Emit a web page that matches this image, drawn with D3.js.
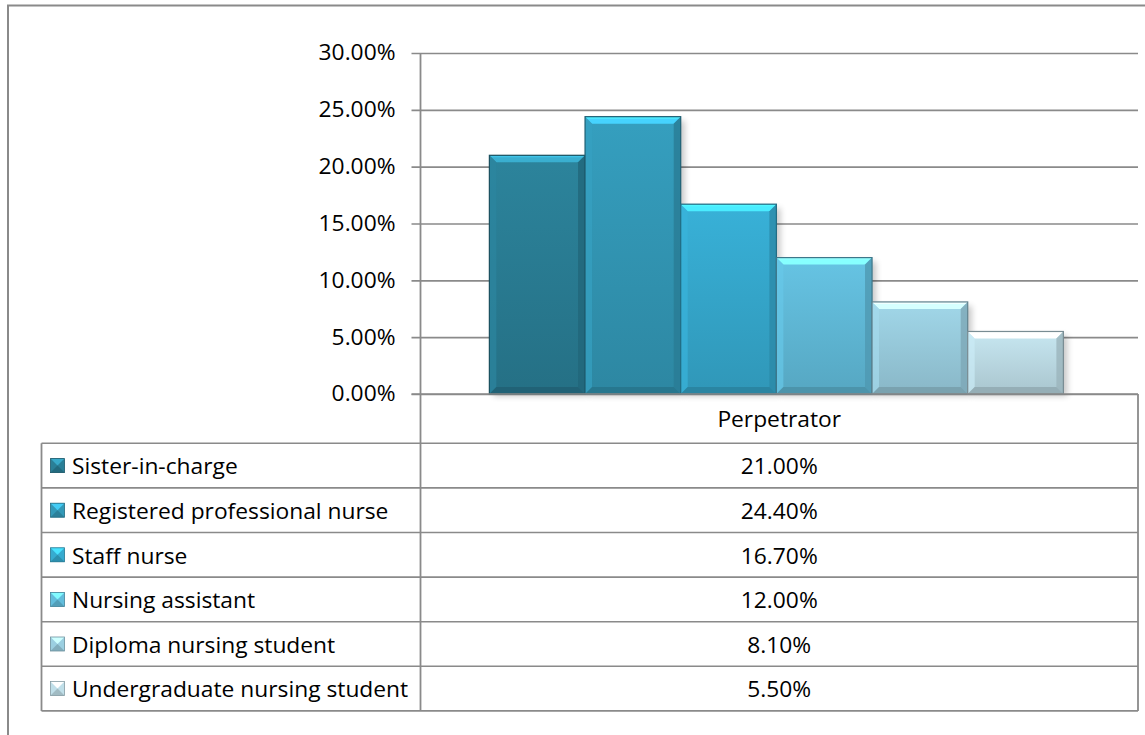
<!DOCTYPE html>
<html><head><meta charset="utf-8">
<script src="https://cdn.jsdelivr.net/npm/d3@7"></script>
<style>body{margin:0;background:#fff;} svg{display:block;} text{font-family:"Open Sans",sans-serif;fill:#000;}</style>
</head><body>
<svg id="c" width="1145" height="735"></svg>
<script>
const categories = ["Perpetrator"];
const seriesNames = ["Sister-in-charge","Registered professional nurse","Staff nurse","Nursing assistant","Diploma nursing student","Undergraduate nursing student"];
const seriesValues = [0.21, 0.244, 0.167, 0.12, 0.081, 0.055];
const seriesColors = ["#2a7f97","#3399b8","#36abd0","#62bddc","#9bcfe1","#c0dfe9"];
const yTicks = [0,0.05,0.10,0.15,0.20,0.25,0.30];

(function(){
const svg = d3.select("#c");
const fs = 21.5, sx = 1.06;
const pL = 420.5, pR = 1138, pT = 53, pB = 394;
const tableLeft = 41.5, rowH = 44.6, headerBottom = 443.3;
const grid = "#8a8a8a";

const y = d3.scaleLinear().domain([0,0.30]).range([pB, pT]);
const x0 = d3.scaleBand().domain(categories).range([pL, pR]).paddingInner(0).paddingOuter(0);
const x1 = d3.scaleBand().domain(seriesNames).range([x0("Perpetrator") + x0.bandwidth()*0.72/7.5, x0("Perpetrator") + x0.bandwidth()*(1-0.78/7.5)]).padding(0);
const pct = d3.format(".2%");

svg.append("path").attr("d", "M8,735 V5.5 H1145").attr("fill","none").attr("stroke",grid).attr("stroke-width",2);

const defs = svg.append("defs");
const blur = defs.append("filter").attr("id","sh").attr("x","-20%").attr("y","-20%").attr("width","150%").attr("height","150%");
blur.append("feGaussianBlur").attr("stdDeviation",3);
seriesColors.forEach((c,i)=>{
  const g = defs.append("linearGradient").attr("id","g"+i).attr("x1",0).attr("y1",0).attr("x2",0).attr("y2",1);
  g.append("stop").attr("offset",0).attr("stop-color",d3.color(c).brighter(0.1));
  g.append("stop").attr("offset",1).attr("stop-color",d3.color(c).darker(0.35));
});

const yAxis = d3.axisLeft(y).tickValues(yTicks).tickFormat(pct).tickSize(pR-pL+9).tickPadding(16);
const ga = svg.append("g").attr("transform",`translate(${pR},0)`).call(yAxis);
ga.select(".domain").remove();
ga.selectAll(".tick line").attr("stroke",grid).attr("stroke-width",1.6);
ga.selectAll(".tick text").attr("font-size",fs).attr("font-family","Open Sans").attr("fill","#000")
  .attr("transform",function(){ const xx = +d3.select(this).attr("x"); return `translate(${xx*(1-sx)},0) scale(${sx},1)`; });
svg.append("line").attr("x1",pL).attr("x2",pL).attr("y1",pT).attr("y2",711).attr("stroke",grid).attr("stroke-width",1.8);

const bars = svg.append("g");
seriesNames.forEach((s,i)=>{
  const bx = x1(s), bw = x1.bandwidth(), by = y(seriesValues[i]), bh = pB - by;
  bars.append("rect").attr("x",bx+4).attr("y",by+4).attr("width",bw).attr("height",bh-2).attr("fill","#000").attr("opacity",0.22).attr("filter","url(#sh)");
});
seriesNames.forEach((s,i)=>{
  const bx = x1(s), bw = x1.bandwidth(), by = y(seriesValues[i]), bh = pB - by;
  const c = seriesColors[i], b = 7;
  const g = bars.append("g");
  g.append("rect").attr("x",bx).attr("y",by).attr("width",bw).attr("height",bh).attr("fill",`url(#g${i})`);
  g.append("path").attr("d",`M${bx},${by} H${bx+bw} L${bx+bw-b},${by+b} H${bx+b} Z`).attr("fill",d3.color(c).brighter(0.9));
  g.append("path").attr("d",`M${bx},${by} H${bx+bw} L${bx+bw-2},${by+2} H${bx+2} Z`).attr("fill",d3.color(c).brighter(1.4)).attr("opacity",0.6);
  g.append("path").attr("d",`M${bx},${by} L${bx+b},${by+b} V${pB-b} L${bx},${pB} Z`).attr("fill",d3.color(c).brighter(0.15)).attr("opacity",0.7);
  g.append("path").attr("d",`M${bx+bw},${by} L${bx+bw-b},${by+b} V${pB-b} L${bx+bw},${pB} Z`).attr("fill",d3.color(c).darker(0.6)).attr("opacity",0.8);
  g.append("path").attr("d",`M${bx},${pB} L${bx+b},${pB-b} H${bx+bw-b} L${bx+bw},${pB} Z`).attr("fill",d3.color(c).darker(0.8)).attr("opacity",0.8);
  g.append("rect").attr("x",bx).attr("y",by).attr("width",bw).attr("height",bh).attr("fill","none").attr("stroke",d3.color(c).darker(1.3)).attr("stroke-width",1.2);
});
svg.append("line").attr("x1",pL-9).attr("x2",pR).attr("y1",pB).attr("y2",pB).attr("stroke",grid).attr("stroke-width",1.6);

const tbl = svg.append("g");
const colMid = (pL+pR)/2;
function stext(g, x, yy, t, anchor){
  const el = g.append("text").attr("x",0).attr("y",0).attr("font-size",fs).attr("text-anchor",anchor).attr("dominant-baseline","central").text(t);
  el.attr("transform",`translate(${x},${yy}) scale(${sx},1)`);
  return el;
}
stext(tbl, colMid, (pB+headerBottom)/2, categories[0], "middle");
tbl.append("line").attr("x1",pR).attr("x2",pR).attr("y1",pB).attr("y2",711).attr("stroke",grid).attr("stroke-width",1.8);
seriesNames.forEach((s,i)=>{
  const ty = headerBottom + i*rowH;
  tbl.append("line").attr("x1",tableLeft).attr("x2",pR).attr("y1",ty).attr("y2",ty).attr("stroke",grid).attr("stroke-width",1.6);
  stext(tbl, colMid, ty+rowH/2, pct(seriesValues[i]), "middle");
  stext(tbl, 72, ty+rowH/2, s, "start");
  const kx = 50.5, ky = ty+rowH/2-7, k = 14, c = seriesColors[i];
  tbl.append("rect").attr("x",kx).attr("y",ky).attr("width",k).attr("height",k).attr("fill",c);
  tbl.append("path").attr("d",`M${kx},${ky} H${kx+k} L${kx+k/2},${ky+k/2} Z`).attr("fill",d3.color(c).brighter(0.8));
  tbl.append("path").attr("d",`M${kx},${ky+k} H${kx+k} L${kx+k/2},${ky+k/2} Z`).attr("fill",d3.color(c).darker(0.5));
  tbl.append("rect").attr("x",kx).attr("y",ky).attr("width",k).attr("height",k).attr("fill","none").attr("stroke",d3.color(c).darker(1)).attr("stroke-width",0.8);
});
const tb = headerBottom + seriesNames.length*rowH;
tbl.append("line").attr("x1",tableLeft).attr("x2",pR).attr("y1",tb).attr("y2",tb).attr("stroke",grid).attr("stroke-width",1.8);
tbl.append("line").attr("x1",tableLeft).attr("x2",tableLeft).attr("y1",headerBottom).attr("y2",tb).attr("stroke",grid).attr("stroke-width",1.8);
})();
</script>
</body></html>
